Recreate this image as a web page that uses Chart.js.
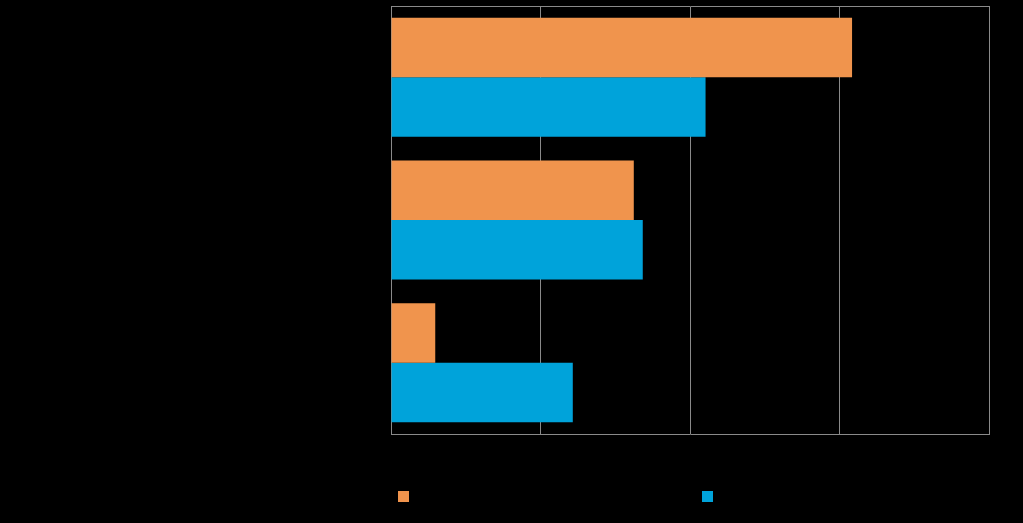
<!DOCTYPE html>
<html>
<head>
<meta charset="utf-8">
<script src="https://cdn.jsdelivr.net/npm/chart.js@4"></script>
<style>
html,body{margin:0;padding:0;background:#000;}
#wrap{position:relative;width:1023px;height:523px;}
</style>
</head>
<body>
<div id="wrap"><canvas id="c" width="1023" height="523"></canvas></div>
<script>
const categories = ["Category 1", "Category 2", "Category 3"];
const seriesNames = ["Series 1", "Series 2"];
const seriesOrange = [77.1, 40.6, 7.4];
const seriesBlue = [52.6, 42.1, 30.4];
const xTicks = [0, 25, 50, 75, 100];

const gridColor = '#8a8a8a';

const legendPlugin = {
  id: 'boxLegend',
  afterDraw(chart) {
    const ctx = chart.ctx;
    const a = chart.chartArea;
    const offsets = [7, 311];
    chart.data.datasets.forEach((ds, i) => {
      const x = a.left + offsets[i];
      const y = a.bottom + 57;
      ctx.save();
      ctx.fillStyle = ds.backgroundColor;
      ctx.fillRect(x, y, 11, 11);
      ctx.fillStyle = '#000';
      ctx.font = '13px "Liberation Sans", Arial, sans-serif';
      ctx.textBaseline = 'middle';
      ctx.fillText(ds.label, x + 17, y + 5);
      ctx.restore();
    });
  }
};

new Chart(document.getElementById('c'), {
  type: 'bar',
  data: {
    labels: categories,
    datasets: [
      { label: seriesNames[0], data: seriesOrange, backgroundColor: '#F0944D', borderWidth: 0 },
      { label: seriesNames[1], data: seriesBlue, backgroundColor: '#00A3DA', borderWidth: 0 }
    ]
  },
  options: {
    indexAxis: 'y',
    responsive: false,
    animation: false,
    devicePixelRatio: 1,
    layout: { padding: { left: 391, right: 34, top: 6, bottom: 89 } },
    datasets: { bar: { categoryPercentage: 0.834, barPercentage: 1.0 } },
    plugins: {
      legend: { display: false },
      tooltip: { enabled: false }
    },
    scales: {
      x: {
        position: 'top',
        min: 0, max: 100,
        afterBuildTicks(scale) { scale.ticks = xTicks.map(v => ({ value: v })); },
        ticks: { display: false },
        grid: { color: gridColor, lineWidth: 1, drawTicks: false },
        border: { display: true, color: gridColor, width: 1 }
      },
      x2: {
        position: 'bottom',
        axis: 'x',
        min: 0, max: 100,
        ticks: { display: false },
        grid: { display: false, drawTicks: false },
        border: { display: true, color: gridColor, width: 1 }
      },
      y: {
        ticks: { display: false },
        grid: { display: false, drawTicks: false },
        border: { display: true, color: gridColor, width: 1 }
      }
    }
  },
  plugins: [legendPlugin]
});
</script>
</body>
</html>
